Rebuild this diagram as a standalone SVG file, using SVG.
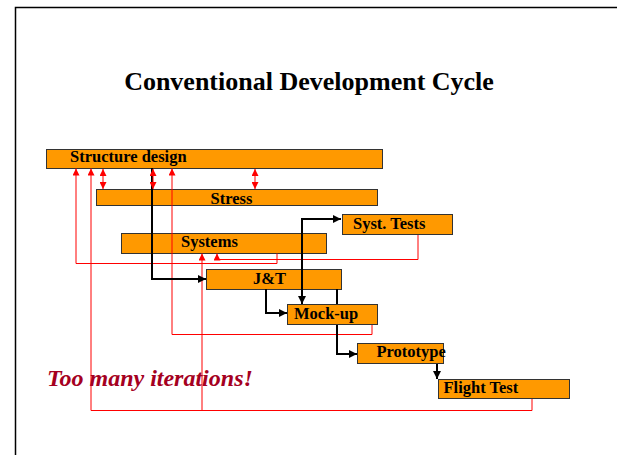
<svg xmlns="http://www.w3.org/2000/svg" width="617" height="455" viewBox="0 0 617 455">
<defs>
<style>
.box{fill:#FF9900;stroke:#333;stroke-width:1}
.lbl{font-family:"Liberation Serif","Times New Roman",serif;font-weight:bold;font-size:16.5px;fill:#000}
.blk{fill:none;stroke:#000;stroke-width:2}
.red{fill:none;stroke:#FF0000;stroke-width:1}
</style>
<marker id="ab" viewBox="0 0 10 10" refX="10" refY="5" markerWidth="9" markerHeight="8" markerUnits="userSpaceOnUse" orient="auto"><path d="M0,0 L10,5 L0,10 z" fill="#000"/></marker>
<marker id="ar" viewBox="0 0 10 10" refX="10" refY="5" markerWidth="7" markerHeight="7" markerUnits="userSpaceOnUse" orient="auto-start-reverse"><path d="M0,0 L10,5 L0,10 z" fill="#FF0000"/></marker>
</defs>
<rect width="617" height="455" fill="#fff"/>
<path d="M15.5,455 V7.5 H617" fill="none" stroke="#000" stroke-width="1.5"/>
<text x="309" y="90" text-anchor="middle" font-family="Liberation Serif, Times New Roman, serif" font-weight="bold" font-size="26">Conventional Development Cycle</text>

<g id="n-structure"><rect class="box" x="46.5" y="149.5" width="336" height="19"/><text class="lbl" x="70" y="162">Structure design</text></g>
<g id="n-stress"><rect class="box" x="96.5" y="189.5" width="281" height="16"/><text class="lbl" x="210.5" y="204">Stress</text></g>
<g id="n-systems"><rect class="box" x="121.5" y="233.5" width="205" height="20"/><text class="lbl" x="181" y="247">Systems</text></g>
<g id="n-jt"><rect class="box" x="206.5" y="269.5" width="135" height="20"/><text class="lbl" x="253" y="283.5">J&amp;T</text></g>

<g id="connectors">
<path class="red" d="M277,253.5 V263.5 H76 V168.5" marker-end="url(#ar)"/>
<path class="red" d="M418,234 V259.5 H217 V253.5" marker-end="url(#ar)"/>
<path class="red" d="M532,399 V410.5 H91 V168.5" marker-end="url(#ar)"/>
<path class="red" d="M202,410.5 V253.5" marker-end="url(#ar)"/>
<path class="red" d="M372,324 V334.5 H172 V168.5" marker-end="url(#ar)"/>
<path class="blk" d="M152,168 V279 H206" marker-end="url(#ab)"/>
<path class="red" d="M103,169 V189" marker-start="url(#ar)" marker-end="url(#ar)"/>
<path class="red" d="M153,169 V189" marker-start="url(#ar)" marker-end="url(#ar)"/>
<path class="red" d="M255,169 V189" marker-start="url(#ar)" marker-end="url(#ar)"/>
<path class="blk" d="M302,219 V304"  marker-end="url(#ab)"/>
<path class="blk" d="M301,219 H341" marker-end="url(#ab)"/>
<path class="blk" d="M266,289 V313 H287" marker-end="url(#ab)"/>
<path class="blk" d="M337,289 V354 H357" marker-end="url(#ab)"/>
<path class="blk" d="M437,364 V379" marker-end="url(#ab)"/>
</g>

<g id="n-systtests"><rect class="box" x="342.5" y="214.5" width="110" height="20"/><text class="lbl" x="353" y="228.5">Syst. Tests</text></g>
<g id="n-mockup"><rect class="box" x="287.5" y="304.5" width="90" height="20"/><text class="lbl" x="294" y="318.5">Mock-up</text></g>
<g id="n-prototype"><rect class="box" x="357.5" y="343.5" width="86" height="20"/><text class="lbl" x="376.5" y="357">Prototype</text></g>
<g id="n-flight"><rect class="box" x="438.5" y="379.5" width="131" height="19"/><text class="lbl" x="443.5" y="393">Flight Test</text></g>

<text x="47" y="386" font-family="Liberation Serif, Times New Roman, serif" font-weight="bold" font-style="italic" font-size="24" fill="#A50021">Too many iterations!</text>
</svg>
